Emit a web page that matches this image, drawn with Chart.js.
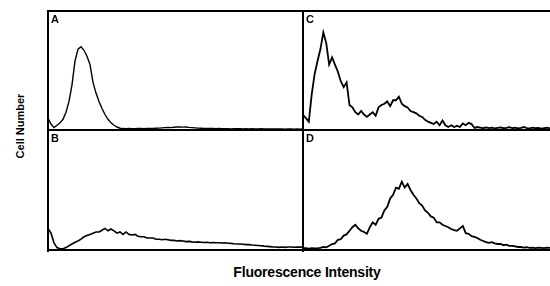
<!DOCTYPE html>
<html>
<head>
<meta charset="utf-8">
<script src="https://cdn.jsdelivr.net/npm/chart.js@4"></script>
<style>
  body { margin: 0; background: #fff; width: 550px; height: 286px; overflow: hidden; position: relative; font-family: "Liberation Sans", Arial, sans-serif; }
  .panel { position: absolute; }
  .line { position: absolute; background: #000; z-index: 2; }
  .tag { position: absolute; font-weight: bold; font-size: 11px; z-index: 3; line-height: 1; }
  #ylab { position: absolute; left: 20px; top: 126px; transform: translate(-50%, -50%) rotate(-90deg); font-weight: bold; font-size: 11px; white-space: nowrap; }
  #xlab { position: absolute; left: 307px; top: 272px; transform: translate(-50%, -50%); font-weight: bold; font-size: 14px; white-space: nowrap; letter-spacing: -0.2px; }
</style>
</head>
<body>

<div class="panel" style="left:48px;top:11px"><canvas id="chartA" width="255" height="119"></canvas></div>
<div class="panel" style="left:303px;top:11px"><canvas id="chartC" width="247" height="119"></canvas></div>
<div class="panel" style="left:48px;top:130px"><canvas id="chartB" width="255" height="120"></canvas></div>
<div class="panel" style="left:303px;top:130px"><canvas id="chartD" width="247" height="120"></canvas></div>

<!-- frame -->
<div class="line" style="left:47px;top:10px;width:2px;height:242px"></div>
<div class="line" style="left:47px;top:10px;width:503px;height:2px"></div>
<div class="line" style="left:47px;top:129px;width:503px;height:2px"></div>
<div class="line" style="left:47px;top:249px;width:503px;height:2px"></div>
<div class="line" style="left:302px;top:10px;width:2px;height:242px"></div>

<div class="tag" style="left:51px;top:14px">A</div>
<div class="tag" style="left:306px;top:14px">C</div>
<div class="tag" style="left:51px;top:133px">B</div>
<div class="tag" style="left:306px;top:133px">D</div>

<div id="ylab">Cell Number</div>
<div id="xlab">Fluorescence Intensity</div>

<script>
// fluorescence channels (x), one sample every 3 channels
const channels = [
  0, 3, 6, 9, 12, 15, 18, 21, 24, 27, 30, 33, 36, 39, 42, 45, 48, 51, 54, 57,
  60, 63, 66, 69, 72, 75, 78, 81, 84, 87, 90, 93, 96, 99, 102, 105, 108, 111, 114, 117,
  120, 123, 126, 129, 132, 135, 138, 141, 144, 147, 150, 153, 156, 159, 162, 165, 168, 171, 174, 177,
  180, 183, 186, 189, 192, 195, 198, 201, 204, 207, 210, 213, 216, 219, 222, 225, 228, 231, 234, 237,
  240, 243, 246, 249, 252, 255
]

// cell counts, relative (0-100 = full panel height)
const countsA = [
  10, 5, 2, 4, 6, 9, 15, 24, 38, 58, 68, 70, 67, 62, 55, 40, 31, 24, 18, 13,
  9, 6, 4, 2.5, 1.5, 1.2, 1.0, 1.2, 1.0, 1.1, 1.3, 1.2, 1.0, 1.2, 1.4, 1.3, 1.5, 1.6, 1.8, 2.0,
  2.2, 2.0, 2.3, 2.5, 2.6, 2.4, 2.5, 2.2, 2.0, 1.8, 1.6, 1.5, 1.4, 1.3, 1.2, 1.2, 1.1, 1.2, 1.0, 1.1,
  1.0, 0.9, 1.0, 1.1, 1.0, 0.9, 1.0, 0.9, 1.0, 0.8, 0.9, 1.0, 0.8, 0.9, 0.8, 0.9, 0.8, 0.9, 0.8, 0.7,
  0.8, 0.8, 0.7, 0.8, 0.7, 0.8
]

const countsB = [
  18, 14, 6, 2, 1, 1, 2, 3.5, 5, 6.5, 7.5, 9, 11, 12, 13, 14, 15, 15, 16.5, 18,
  16, 17.5, 16, 14, 15, 13, 15, 13, 12.5, 13, 11.5, 11, 11, 10, 10, 10, 9, 9, 8.5, 9,
  8.5, 8, 8, 7.5, 7.8, 7.5, 7, 7.2, 6.8, 6.5, 6.8, 6.5, 6.2, 6.5, 6, 6.2, 6, 6, 5.8, 6,
  5.6, 5.5, 5.2, 5, 5, 4.8, 4.5, 4.5, 4.2, 4, 3.8, 3.5, 3.2, 3, 2.8, 2.5, 2.5, 2.2, 2.5, 2.2,
  2.5, 2.5, 2.3, 2.5, 2.4, 2.5
]

const countsC = [
  12.7, 10, 7, 30, 47, 58, 68, 82, 73, 55, 61, 55, 49, 41, 36, 40, 21, 19, 15, 13,
  16, 13, 11, 13, 15, 12, 19, 21, 22, 24, 20, 25, 25, 28, 22, 20, 19, 16, 15, 14,
  12, 11, 8.5, 7, 6, 5, 7, 4, 8, 4, 2.5, 4, 2.5, 3.5, 2.5, 5.5, 4, 6, 5, 1.7,
  2.5, 2.0, 1.5, 2.2, 1.6, 2.0, 1.4, 1.8, 2.2, 1.5, 1.7, 2.4, 1.6, 1.9, 1.3, 1.8, 2.5, 1.6, 1.4, 2.0,
  1.5, 1.8, 1.2, 1.6, 1.9, 1.4
]

const countsD = [
  1.5, 1.5, 1.2, 1.5, 1.3, 1.5, 1.8, 2.5, 2.2, 3.5, 5, 5.5, 8.5, 9, 12, 13, 16, 19, 21, 18,
  16, 15, 13.5, 19, 23, 21, 26, 27, 33, 36, 43, 46, 52, 51, 57, 52, 55, 50, 46, 43,
  39, 37, 33, 31, 28, 27, 23, 23, 21, 20, 19, 17.5, 16.5, 16, 18, 20, 14, 13.5, 11.5, 11,
  10, 8.5, 7.5, 6.5, 6, 6.5, 5.5, 5, 5, 4, 4.5, 3.5, 3.5, 3, 2.5, 2.5, 2, 2.3, 1.8, 2,
  1.6, 2, 1.8, 1.5, 2, 1.7
]

function drawHistogram(canvasId, counts, width) {
  new Chart(document.getElementById(canvasId), {
    type: "line",
    data: {
      labels: channels,
      datasets: [{
        data: counts,
        borderColor: "#000",
        borderWidth: width,
        pointRadius: 0,
        tension: 0,
        fill: false
      }]
    },
    options: {
      responsive: false,
      animation: false,
      layout: { padding: 0 },
      plugins: { legend: { display: false }, tooltip: { enabled: false } },
      scales: {
        x: { display: false },
        y: { display: false, min: 0, max: 100 }
      }
    }
  })
}

drawHistogram("chartA", countsA, 1.4)
drawHistogram("chartB", countsB, 1.6)
drawHistogram("chartC", countsC, 1.8)
drawHistogram("chartD", countsD, 1.8)
</script>
</body>
</html>
